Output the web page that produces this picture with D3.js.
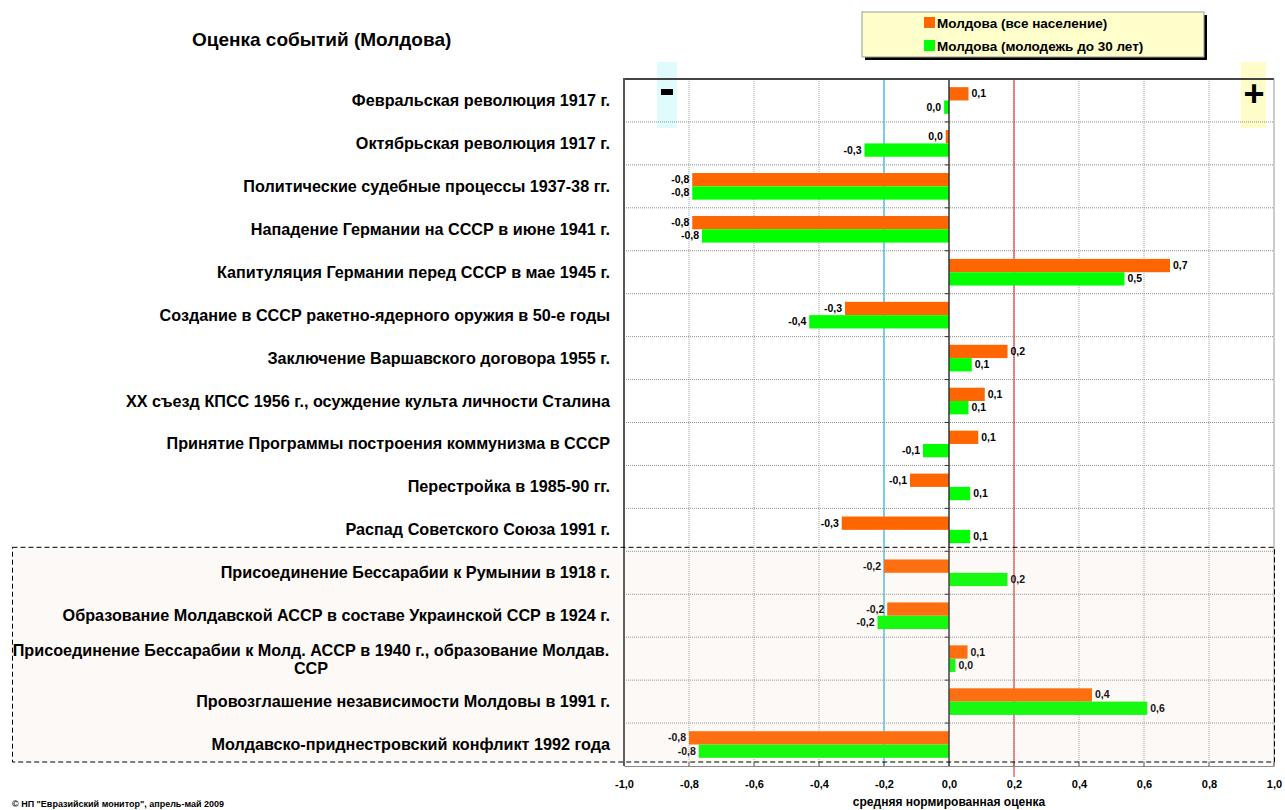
<!DOCTYPE html>
<html><head><meta charset="utf-8">
<script src="https://cdn.jsdelivr.net/npm/d3@7"></script>
<style>
body{margin:0;background:#fff;}
svg{display:block;}
text{font-family:"Liberation Sans",Arial,sans-serif;}
</style></head>
<body>
<script>
const categories = [
 "Февральская революция 1917 г.",
 "Октябрьская революция 1917 г.",
 "Политические судебные процессы 1937-38 гг.",
 "Нападение Германии на СССР в июне 1941 г.",
 "Капитуляция Германии перед СССР в мае 1945 г.",
 "Создание в СССР ракетно-ядерного оружия в 50-е годы",
 "Заключение Варшавского договора 1955 г.",
 "XX съезд КПСС 1956 г., осуждение культа личности Сталина",
 "Принятие Программы построения коммунизма в СССР",
 "Перестройка в 1985-90 гг.",
 "Распад Советского Союза 1991 г.",
 "Присоединение Бессарабии к Румынии в 1918 г.",
 "Образование Молдавской АССР в составе Украинской ССР в 1924 г.",
 "Присоединение Бессарабии к Молд. АССР в 1940 г., образование Молдав. ССР",
 "Провозглашение независимости Молдовы в 1991 г.",
 "Молдавско-приднестровский конфликт 1992 года"
];
const seriesNames = ["Молдова (все население)", "Молдова (молодежь до 30 лет)"];
const allPopulation = [0.06, -0.01, -0.79, -0.79, 0.68, -0.32, 0.18, 0.11, 0.09, -0.12, -0.33, -0.20, -0.19, 0.057, 0.44, -0.80];
const youth = [-0.015, -0.26, -0.79, -0.76, 0.54, -0.43, 0.07, 0.06, -0.08, 0.065, 0.065, 0.18, -0.22, 0.02, 0.61, -0.77];
const xTicks = [-1.0, -0.8, -0.6, -0.4, -0.2, 0.0, 0.2, 0.4, 0.6, 0.8, 1.0];
const colors = ["#ff6600", "#00ff00"];
const title = "Оценка событий (Молдова)";
const xTitle = "средняя нормированная оценка";
const footer = "© НП \"Евразийский монитор\", апрель-май 2009";

const W = 1285, H = 810;
const svg = d3.select("body").append("svg").attr("width", W).attr("height", H);

const x = d3.scaleLinear().domain([-1, 1]).range([624, 1274]);
const y = d3.scaleBand().domain(d3.range(categories.length)).range([79, 766]).paddingInner(0);
const sub = d3.scaleBand().domain([0, 1]).range([y.bandwidth() * 0.19, y.bandwidth() * 0.81]);

const fmt = v => { let s = d3.format(".1f")(v); s = s.replace("−", "-"); if (s === "-0.0") s = "0.0"; return s.replace(".", ","); };

const secTop = y(11) - 4, secBot = y(15) + y.bandwidth() - 4;

// minus / plus boxes
svg.append("rect").attr("x", 657).attr("y", 62).attr("width", 20).attr("height", 66).attr("fill", "#e0fbfb");
svg.append("rect").attr("x", 1241).attr("y", 62).attr("width", 25).attr("height", 66).attr("fill", "#fefcc8");

// vertical grid
svg.append("g").selectAll("line").data(xTicks.filter(t => t > -1 && t < 1 && t !== 0)).join("line")
  .attr("x1", d => x(d)).attr("x2", d => x(d)).attr("y1", 79).attr("y2", 766)
  .attr("stroke", "#a0a0a0").attr("stroke-width", 1).attr("stroke-dasharray", "1,1");
// horizontal grid
svg.append("g").selectAll("line").data(d3.range(1, categories.length)).join("line")
  .attr("x1", 624).attr("x2", 1274).attr("y1", d => y(d)).attr("y2", d => y(d))
  .attr("stroke", "#909090").attr("stroke-width", 1).attr("stroke-dasharray", "1,1");

// reference lines
svg.append("line").attr("x1", x(-0.2)).attr("x2", x(-0.2)).attr("y1", 79).attr("y2", 767)
  .attr("stroke", "#55c4ea").attr("stroke-width", 1.5);
svg.append("line").attr("x1", x(0.2)).attr("x2", x(0.2)).attr("y1", 79).attr("y2", 777)
  .attr("stroke", "#dd2222").attr("stroke-width", 1);

// bars
const series = [allPopulation, youth];
series.forEach((vals, si) => {
  svg.append("g").selectAll("rect").data(vals).join("rect")
    .attr("x", d => x(Math.min(0, d))).attr("width", d => Math.abs(x(d) - x(0)))
    .attr("y", (d, i) => y(i) + sub(si)).attr("height", sub.bandwidth())
    .attr("fill", colors[si]);
  svg.append("g").selectAll("text").data(vals).join("text")
    .attr("x", d => d >= 0 ? x(d) + 3 : x(d) - 3)
    .attr("y", (d, i) => y(i) + sub(si) + sub.bandwidth() / 2 + 3.5)
    .attr("text-anchor", d => d >= 0 ? "start" : "end")
    .attr("font-size", 10.5).attr("font-weight", "bold").attr("fill", "#000")
    .text(d => fmt(d));
});

// zero axis
svg.append("line").attr("x1", x(0)).attr("x2", x(0)).attr("y1", 79).attr("y2", 766).attr("stroke", "#333").attr("stroke-width", 1.5);
svg.append("g").selectAll("line").data(d3.range(1, categories.length)).join("line")
  .attr("x1", x(0) - 4).attr("x2", x(0)).attr("y1", d => y(d)).attr("y2", d => y(d))
  .attr("stroke", "#333");

// frame
svg.append("line").attr("x1", 624).attr("x2", 1274).attr("y1", 79).attr("y2", 79).attr("stroke", "#444").attr("stroke-width", 2);
svg.append("line").attr("x1", 624).attr("x2", 624).attr("y1", 78).attr("y2", 766).attr("stroke", "#555").attr("stroke-width", 2);
svg.append("line").attr("x1", 1274).attr("x2", 1274).attr("y1", 79).attr("y2", 766).attr("stroke", "#999").attr("stroke-width", 1);

// bottom axis
const xAxis = d3.axisBottom(x).tickValues(xTicks).tickSize(0).tickPadding(14).tickFormat(d => fmt(d));
const gx = svg.append("g").attr("transform", "translate(0,766)").call(xAxis);
gx.select(".domain").attr("stroke", "#888");
gx.selectAll("text").attr("font-size", 11).attr("font-weight", "bold").attr("fill", "#000")
  .style("font-family", "'Liberation Sans Narrow','Liberation Sans',Arial,sans-serif");
svg.append("g").selectAll("line").data(xTicks).join("line")
  .attr("x1", d => x(d)).attr("x2", d => x(d)).attr("y1", 762).attr("y2", 766).attr("stroke", "#666");

// bottom section overlay (dashed)
svg.append("rect").attr("x", 12.5).attr("y", secTop).attr("width", 1274 - 12).attr("height", secBot - secTop)
  .attr("fill", "rgb(240,200,170)").attr("fill-opacity", 0.1)
  .attr("stroke", "#000").attr("stroke-width", 1).attr("stroke-dasharray", "5,3");

// category labels
const lab = svg.append("g");
categories.forEach((c, i) => {
  const cy = y(i) + y.bandwidth() / 2;
  if (i === 13) {
    const t = lab.append("text").attr("x", 311).attr("y", cy - 3).attr("text-anchor", "middle")
      .attr("font-size", 16.2).attr("font-weight", "bold").attr("fill", "#000");
    t.append("tspan").attr("x", 311).text("Присоединение Бессарабии к Молд. АССР в 1940 г., образование Молдав.");
    t.append("tspan").attr("x", 311).attr("dy", 18).text("ССР");
  } else {
    lab.append("text").attr("x", 610).attr("y", cy + 5.5).attr("text-anchor", "end")
      .attr("font-size", 16.2).attr("font-weight", "bold").attr("fill", "#000").text(c);
  }
});

// minus / plus signs
svg.append("rect").attr("x", 661).attr("y", 89).attr("width", 12).attr("height", 6).attr("fill", "#000");
svg.append("text").attr("x", 1254).attr("y", 106).attr("text-anchor", "middle").attr("font-size", 36)
  .attr("font-weight", "bold").text("+");

// title
svg.append("text").attr("x", 192).attr("y", 46).attr("font-size", 19).attr("font-weight", "bold").text(title);

// legend
const lg = svg.append("g");
lg.append("rect").attr("x", 865).attr("y", 15).attr("width", 342).attr("height", 45).attr("fill", "#000");
lg.append("rect").attr("x", 862).attr("y", 12).attr("width", 342).attr("height", 45).attr("fill", "#ffffcc").attr("stroke", "#999").attr("stroke-width", 1);
seriesNames.forEach((n, i) => {
  lg.append("rect").attr("x", 924).attr("y", 17 + i * 23).attr("width", 11).attr("height", 11).attr("fill", colors[i]);
  lg.append("text").attr("x", 937).attr("y", 27.5 + i * 23).attr("font-size", 13.5).attr("font-weight", "bold").text(n);
});

// axis title
svg.append("text").attr("x", x(0)).attr("y", 806).attr("text-anchor", "middle").attr("font-size", 12)
  .attr("font-weight", "bold").style("font-family", "'Liberation Sans Narrow','Liberation Sans',Arial,sans-serif").text(xTitle);
// footer
svg.append("text").attr("x", 12).attr("y", 807).attr("font-size", 9).attr("font-weight", "bold").text(footer);
</script>
</body></html>
